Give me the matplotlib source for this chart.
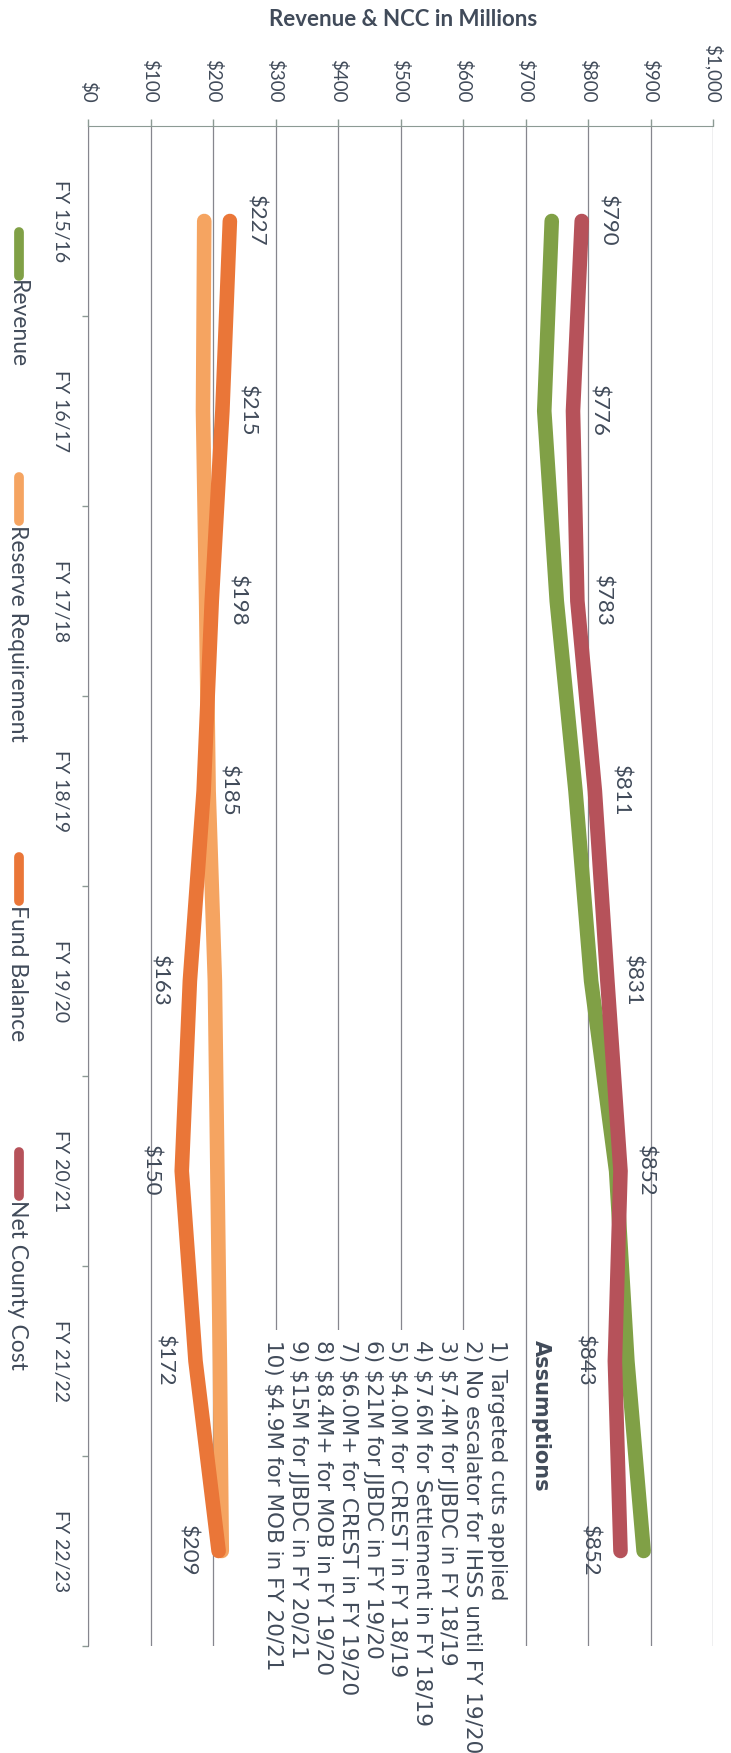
import matplotlib
matplotlib.use("Agg")
import matplotlib.pyplot as plt
from matplotlib.lines import Line2D
from matplotlib.ticker import MultipleLocator, FuncFormatter

plt.rcParams['font.family'] = ['Lato', 'DejaVu Sans']

# Data (millions)
years = ["FY 15/16", "FY 16/17", "FY 17/18", "FY 18/19",
         "FY 19/20", "FY 20/21", "FY 21/22", "FY 22/23"]
revenue = [742, 730, 750, 780, 805, 845, 863, 889]
reserve_requirement = [186, 184, 189, 193, 203, 207, 211, 214]
fund_balance = [227, 215, 198, 185, 163, 150, 172, 209]
net_county_cost = [790, 776, 783, 811, 831, 852, 843, 852]

# which labels sit on the low-value side of the line
fund_label_low = [False, False, False, False, True, True, True, True]
ncc_label_low = [False, False, False, False, False, False, True, True]

assumptions = [
    "1) Targeted cuts applied",
    "2) No escalator for IHSS until FY 19/20",
    "3) $7.4M for JJBDC in FY 18/19",
    "4) $7.6M for Settlement in FY 18/19",
    "5) $4.0M for CREST in FY 18/19",
    "6) $21M for JJBDC in FY 19/20",
    "7) $6.0M+ for CREST in FY 19/20",
    "8) $8.4M+ for MOB in FY 19/20",
    "9) $15M for JJBDC in FY 20/21",
    "10) $4.9M for MOB in FY 20/21",
]

series = [
    ("Revenue", revenue, "#80a046"),
    ("Reserve Requirement", reserve_requirement, "#f5a461"),
    ("Fund Balance", fund_balance, "#ea7638"),
    ("Net County Cost", net_county_cost, "#b6525a"),
]

text_color = "#414b5a"
W, H = 731, 1753

fig = plt.figure(figsize=(W / 100, H / 100), dpi=100)
fig.patch.set_facecolor("white")

# axes: value runs left->right, years run top->bottom (rotated chart)
x0, x1 = 88, 713
y0, y1 = 126, 1646
ax = fig.add_axes([x0 / W, 1 - y1 / H, (x1 - x0) / W, (y1 - y0) / H])

idx = list(range(len(years)))
for name, vals, col in series:
    ax.plot(vals, idx, color=col, lw=10.5, solid_capstyle="round",
            solid_joinstyle="round", zorder=3)

ax.set_xlim(0, 1000)
ax.set_ylim(len(years) - 0.5, -0.5)

# value axis on top
ax.xaxis.tick_top()
ax.xaxis.set_major_locator(MultipleLocator(100))
ax.xaxis.set_major_formatter(FuncFormatter(lambda v, p: f"${v:,.0f}"))
ax.tick_params(axis="x", which="major", direction="out", length=5,
               width=1, color="#8c9a94", pad=12, labelsize=13.5,
               labelcolor=text_color, labelrotation=-90)
ax.grid(axis="x", color="#86868e", lw=0.9, zorder=0)

ax.set_yticks(idx)
ax.set_yticklabels(years)
ax.set_yticks([i + 0.5 for i in idx], minor=True)
ax.tick_params(axis="y", which="major", length=0, pad=14, labelsize=14,
               labelcolor=text_color)
for t in ax.get_yticklabels():
    t.set_rotation(-90)
    t.set_va("center")
ax.tick_params(axis="y", which="minor", length=4, width=1, color="#8c9a94")

for s in ["right", "bottom"]:
    ax.spines[s].set_visible(False)
ax.spines["top"].set_color("#8c9a94")
ax.spines["left"].set_color("#86868e")

# value labels
for vals, low in [(fund_balance, fund_label_low), (net_county_cost, ncc_label_low)]:
    for i, v in enumerate(vals):
        off = -15 if low[i] else 11
        ax.annotate(f"${v}", (v, i), xytext=(off, 0), textcoords="offset points",
                    rotation=-90, ha="right" if low[i] else "left", va="center",
                    fontsize=16, color=text_color, zorder=5)

# assumptions box
ax.text((541 - x0) / 0.625, (1340 - y0) / 190 - 0.5, "Assumptions",
        rotation=-90, ha="center", va="top", fontsize=15, fontweight="bold",
        family="DejaVu Sans", color=text_color, zorder=4, clip_on=False)
ax.text((385 - x0) / 0.625, (1340 - y0) / 190 - 0.5, "\n".join(assumptions),
        rotation=-90, ha="center", va="top", multialignment="left",
        fontsize=15.5, family="DejaVu Sans", linespacing=1.31,
        color=text_color, zorder=4, clip_on=False,
        bbox=dict(fc="white", ec="none", pad=7))

# title (value axis title)
fig.text(403 / W, 1 - 20 / H, "Revenue & NCC in Millions", ha="center",
         va="center", fontsize=16, fontweight="bold", color=text_color)

# legend drawn as a rotated column on the left
leg_starts = [232, 477, 857, 1152]
for (name, vals, col), ys in zip(series, leg_starts):
    fig.add_artist(Line2D([19 / W, 19 / W], [1 - ys / H, 1 - (ys + 44) / H],
                          color=col, lw=7, solid_capstyle="round"))
    fig.text(17 / W, 1 - (ys + 48) / H, name, rotation=-90, ha="center",
             va="top", fontsize=16.5, color=text_color)

fig.savefig("out.png", dpi=100, facecolor="white")
